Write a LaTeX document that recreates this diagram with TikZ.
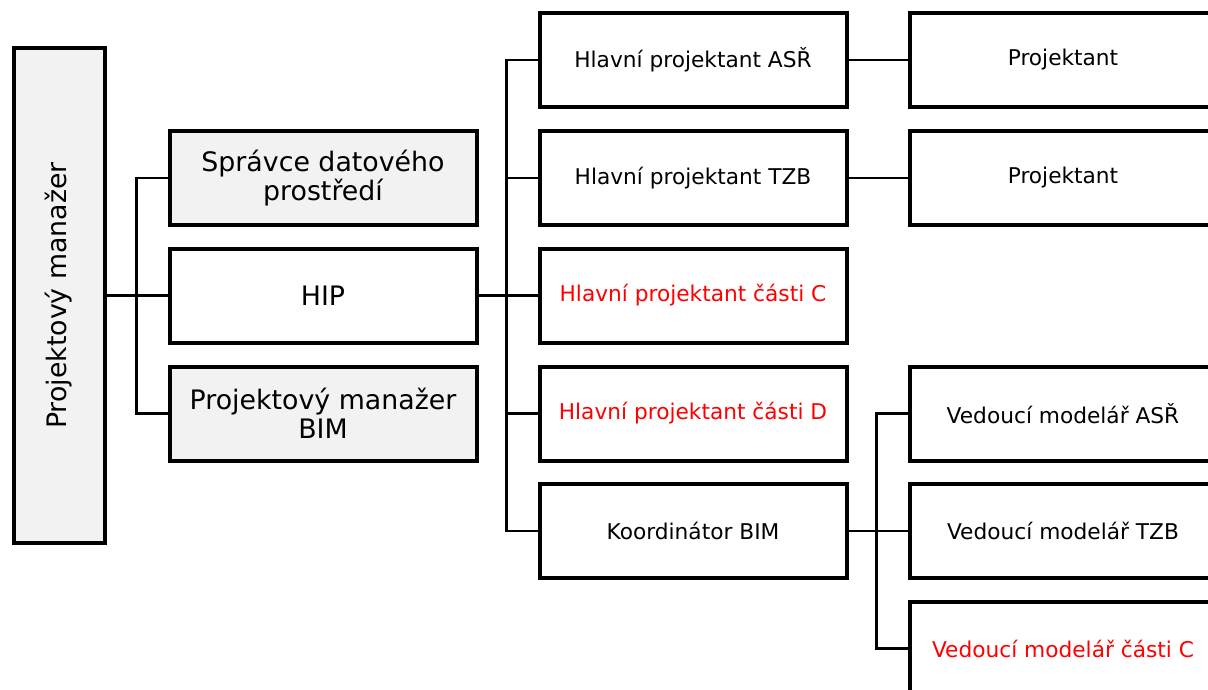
\documentclass[tikz,border=0pt]{standalone}
\usepackage{fontspec}
\setmainfont{DejaVu Sans}
\definecolor{boxgray}{HTML}{F2F2F2}
\definecolor{redtxt}{HTML}{FF0000}
\tikzset{
  box/.style={draw=black, line width=4pt, fill=white, rectangle, inner sep=0pt,
    minimum width=307pt, minimum height=94pt, align=center},
  graybox/.style={box, fill=boxgray},
  big/.style={font=\fontsize{26.8}{29}\selectfont},
  small/.style={font=\fontsize{21.7}{25}\selectfont},
  redt/.style={text=redtxt},
  conn/.style={draw=black, line width=2.5pt}
}
\begin{document}
\begin{tikzpicture}[x=1pt,y=-1pt]
\useasboundingbox (0,0) rectangle (1208,690);
\clip (0,0) rectangle (1208,690);
% column 1
\node[graybox, minimum width=91pt, minimum height=494pt] (pm) at (59,295.5) {};
\node[big, rotate=90] (pmt) at (pm.center) {Projektový manažer};
% column 2
\node[graybox, big] (sdp) at (323,178) {Správce datového\\prostředí};
\node[box, big] (hip) at (323,295.5) {HIP};
\node[graybox, big] (pmbim) at (323,413.5) {Projektový manažer\\BIM};
% column 3
\node[box, small] (hpa) at (693,60) {Hlavní projektant ASŘ};
\node[box, small] (hpt) at (693,178) {Hlavní projektant TZB};
\node[box, small, redt] (hpc) at (693,295.5) {Hlavní projektant části C};
\node[box, small, redt] (hpd) at (693,413.5) {Hlavní projektant části D};
\node[box, small] (kb) at (693,531) {Koordinátor BIM};
% column 4
\node[box, small] (p1) at (1063,60) {Projektant};
\node[box, small] (p2) at (1063,178) {Projektant};
\node[box, small] (va) at (1063,413.5) {Vedoucí modelář ASŘ};
\node[box, small] (vt) at (1063,531) {Vedoucí modelář TZB};
\node[box, small, redt] (vc) at (1063,648.5) {Vedoucí modelář části C};
% connectors
\draw[conn] (pm.east) -- (hip.west);
\draw[conn] (sdp.west) -- ++(-31,0) |- (pmbim.west);
\draw[conn] (hip.east) -- (hpc.west);
\draw[conn] (hpa.west) -- ++(-31,0) |- (kb.west);
\draw[conn] (hpt.west) -- ++(-31,0);
\draw[conn] (hpd.west) -- ++(-31,0);
\draw[conn] (hpa.east) -- (p1.west);
\draw[conn] (hpt.east) -- (p2.west);
\draw[conn] (kb.east) -- (vt.west);
\draw[conn] (va.west) -- ++(-31,0) |- (vc.west);
\end{tikzpicture}
\end{document}
